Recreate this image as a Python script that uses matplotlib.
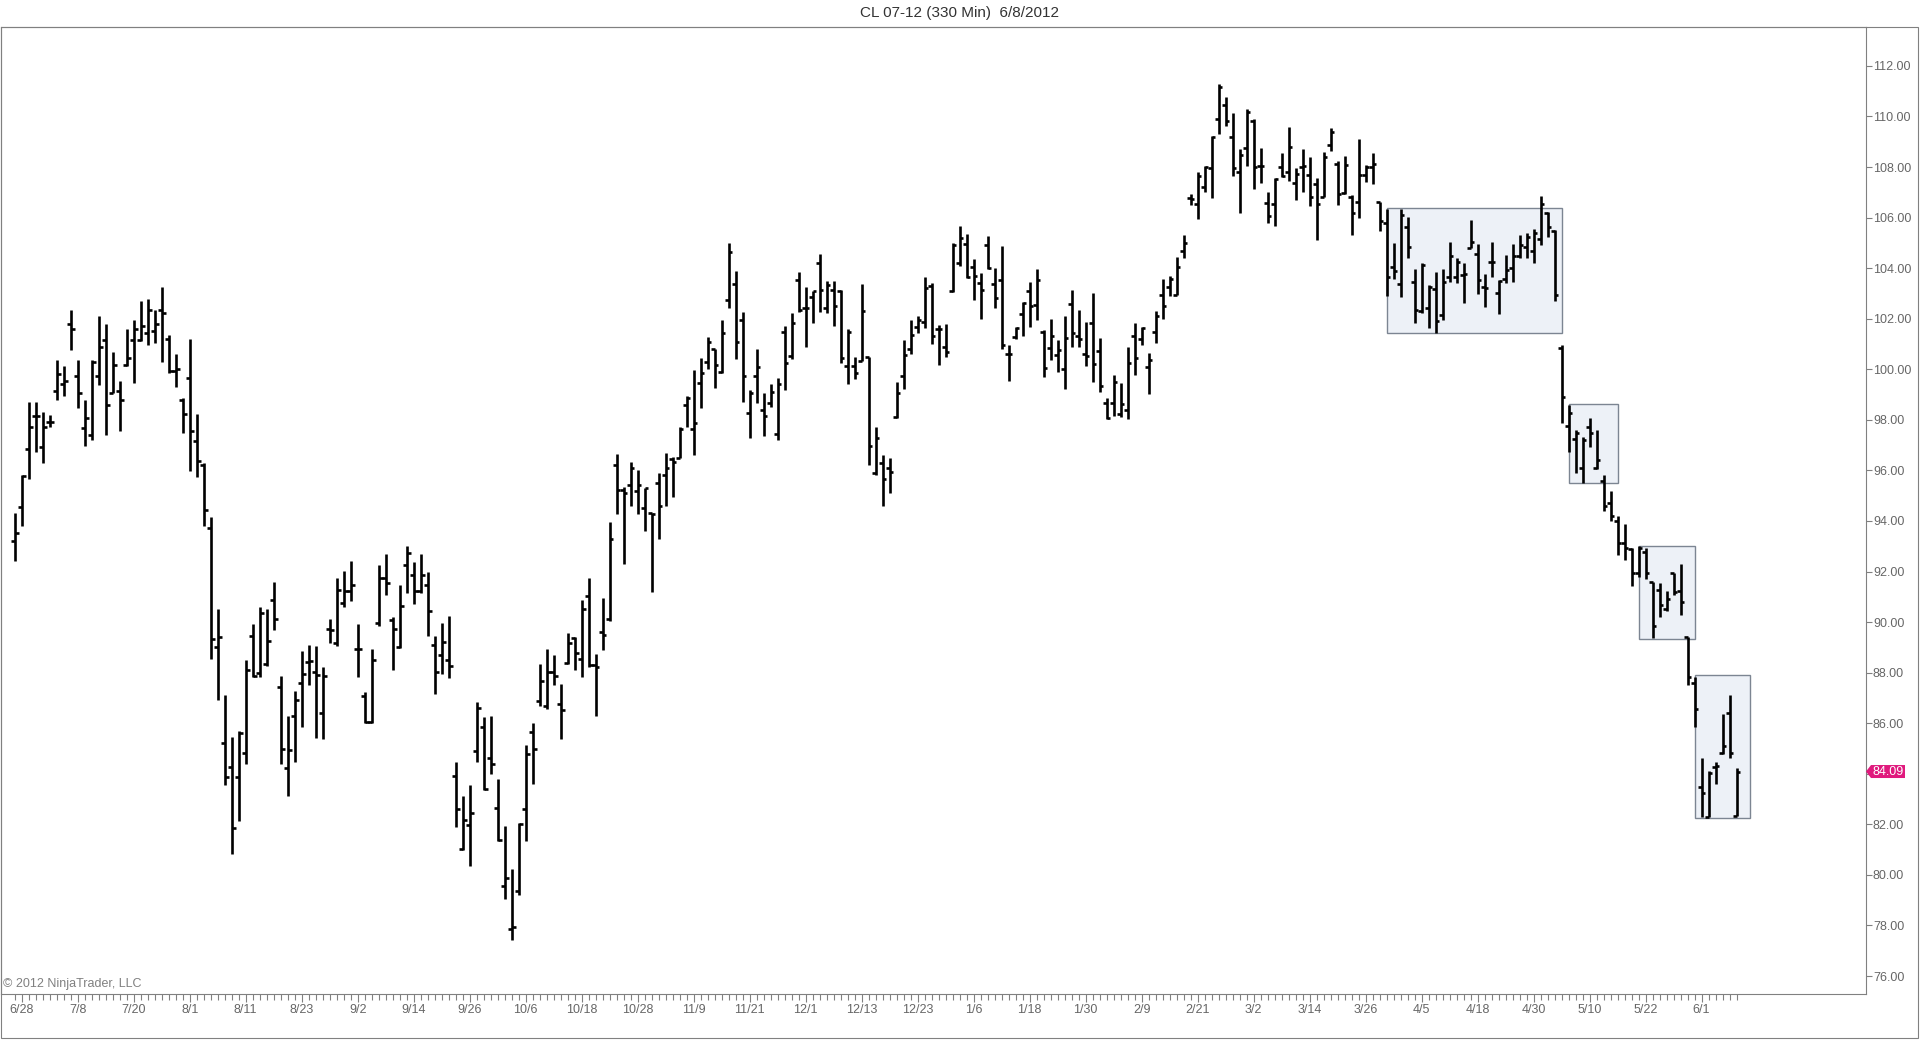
#!/usr/bin/env python3

# CL 07-12 330 min OHLC bars, NinjaTrader look

import numpy as np
import matplotlib
matplotlib.use('Agg')
import matplotlib.pyplot as plt
from matplotlib.patches import Rectangle, Polygon
from matplotlib.ticker import FixedLocator, FuncFormatter


opens = [93.21, 94.54, 96.86, 98.15, 96.94, 97.90, 99.16, 99.42, 101.81, 99.72,
         97.68, 97.42, 99.72, 101.17, 99.08, 99.16, 100.19, 101.16, 101.16, 101.43,
         101.51, 102.34, 101.20, 99.92, 98.78, 99.66, 97.15, 96.20, 93.71, 89.02,
         85.23, 84.28, 83.87, 84.82, 89.47, 88.00, 88.34, 90.88, 87.43, 84.22,
         86.29, 87.58, 88.41, 88.02, 86.39, 89.74, 89.17, 90.76, 91.22, 88.92,
         87.06, 86.04, 89.97, 91.76, 90.07, 89.03, 92.24, 91.85, 91.22, 91.47,
         89.11, 88.69, 88.50, 83.93, 81.02, 81.97, 84.89, 85.85, 84.62, 82.65,
         79.58, 77.85, 79.38, 82.59, 85.66, 86.87, 86.67, 88.02, 86.77, 88.40,
         89.36, 88.53, 91.03, 88.30, 89.61, 90.13, 96.21, 95.22, 95.42, 95.20,
         94.50, 94.30, 95.51, 95.82, 96.44, 96.48, 98.59, 97.62, 99.44, 100.30,
         100.79, 99.90, 102.74, 103.37, 101.95, 98.28, 99.73, 98.39, 98.65, 97.44,
         101.49, 100.52, 103.53, 102.41, 102.85, 104.22, 102.44, 103.14, 103.10, 100.14,
         100.14, 100.34, 100.50, 95.88, 96.31, 96.08, 98.12, 99.73, 100.79, 101.68,
         101.88, 103.29, 101.58, 100.87, 103.11, 104.22, 104.96, 104.06, 103.40, 104.92,
         103.38, 103.53, 100.61, 101.27, 102.19, 103.11, 102.55, 101.49, 100.83, 100.57,
         100.00, 102.59, 101.30, 100.61, 101.85, 100.74, 98.66, 98.66, 98.23, 98.39,
         101.32, 101.19, 100.08, 101.49, 102.94, 103.27, 102.94, 104.66, 106.76, 106.54,
         107.20, 107.95, 109.89, 110.46, 109.18, 107.82, 108.74, 109.84, 108.04, 106.59,
         106.54, 107.99, 107.82, 107.38, 108.02, 107.69, 107.33, 106.80, 108.87, 108.12,
         106.99, 106.83, 106.63, 107.69, 107.99, 106.63, 105.80, 104.04, 103.38, 105.64,
         103.47, 102.32, 102.41, 103.17, 102.15, 103.64, 103.67, 103.73, 104.79, 104.56,
         103.25, 104.26, 103.03, 103.56, 103.99, 104.48, 104.83, 104.69, 105.14, 106.17,
         105.49, 100.83, 97.76, 97.23, 96.08, 97.73, 96.08, 95.60, 94.70, 94.00,
         93.14, 92.88, 91.96, 92.79, 91.60, 91.27, 90.51, 91.93, 91.24, 89.40,
         87.58, 83.46, 82.30, 84.28, 84.81, 86.39, 82.33]

highs = [94.30, 95.83, 98.71, 98.71, 98.33, 98.18, 100.37, 100.15, 102.34, 100.37,
         98.78, 100.37, 102.11, 101.81, 100.68, 99.54, 101.58, 101.96, 102.72, 102.79,
         102.34, 103.25, 101.36, 100.60, 98.86, 101.20, 98.25, 96.30, 94.16, 90.53,
         87.12, 85.46, 85.69, 88.49, 89.93, 90.61, 90.53, 91.59, 87.88, 86.29,
         87.28, 88.87, 89.09, 89.07, 88.21, 90.13, 91.76, 92.04, 92.43, 89.93,
         87.25, 88.92, 92.24, 92.71, 90.22, 91.47, 93.00, 92.37, 92.68, 91.99,
         89.45, 89.97, 90.26, 84.47, 83.12, 83.55, 86.83, 86.23, 86.29, 83.80,
         81.94, 80.25, 82.07, 85.14, 86.00, 88.34, 88.92, 88.69, 87.57, 89.55,
         89.42, 90.89, 91.76, 88.73, 90.95, 93.96, 96.65, 95.36, 96.34, 96.01,
         95.32, 94.33, 95.88, 96.70, 96.54, 97.73, 98.94, 99.97, 100.43, 101.29,
         100.79, 101.95, 104.98, 103.89, 102.28, 99.18, 100.79, 99.07, 99.42, 99.64,
         101.71, 102.24, 103.86, 103.24, 103.11, 104.55, 103.50, 103.50, 103.14, 101.58,
         100.47, 103.37, 100.50, 97.73, 96.61, 96.48, 99.51, 101.16, 101.95, 102.11,
         103.66, 103.40, 101.76, 101.79, 105.01, 105.67, 105.35, 104.35, 103.80, 105.27,
         103.99, 104.88, 100.96, 101.69, 102.68, 103.47, 103.96, 101.56, 101.98, 101.16,
         102.11, 103.14, 102.35, 101.89, 103.01, 101.23, 98.85, 99.78, 99.45, 100.87,
         101.82, 101.69, 100.66, 102.32, 103.56, 103.69, 104.43, 105.31, 106.94, 107.82,
         108.04, 109.23, 111.29, 110.76, 110.15, 108.70, 110.29, 109.89, 108.74, 107.03,
         107.56, 108.57, 109.60, 107.95, 108.70, 108.41, 107.56, 108.61, 109.53, 108.22,
         108.44, 106.90, 109.10, 108.08, 108.57, 106.63, 106.33, 105.01, 106.33, 106.01,
         103.96, 104.22, 103.34, 103.83, 103.96, 105.05, 104.39, 104.19, 105.91, 104.96,
         103.77, 105.05, 103.53, 104.52, 104.96, 105.31, 105.38, 105.54, 106.86, 106.24,
         105.51, 100.96, 98.59, 97.60, 97.34, 98.06, 97.60, 95.80, 95.20, 94.20,
         93.90, 92.92, 93.01, 92.92, 91.60, 91.56, 91.24, 91.93, 92.30, 89.42,
         87.84, 84.61, 84.12, 84.48, 86.37, 87.12, 84.22]

lows = [92.42, 93.79, 95.68, 96.74, 96.28, 97.72, 98.78, 98.93, 100.75, 98.48,
        96.97, 97.19, 99.39, 97.42, 99.08, 97.57, 100.15, 99.46, 101.13, 100.98,
        101.05, 100.30, 99.84, 99.31, 97.50, 95.98, 95.75, 93.79, 88.56, 86.90,
        83.57, 80.84, 82.13, 84.40, 87.81, 87.81, 88.26, 89.70, 84.40, 83.11,
        84.48, 85.84, 87.50, 85.43, 85.37, 89.17, 89.07, 90.61, 90.84, 87.82,
        86.00, 86.00, 89.84, 91.08, 88.11, 88.97, 91.14, 90.70, 91.14, 89.45,
        87.15, 87.96, 87.77, 81.88, 80.98, 80.34, 84.47, 83.36, 83.99, 81.36,
        79.06, 77.41, 79.19, 81.36, 83.61, 86.67, 86.58, 87.50, 85.39, 88.34,
        88.11, 87.82, 88.21, 86.29, 88.88, 90.03, 94.29, 92.30, 94.59, 94.27,
        93.60, 91.20, 93.30, 94.59, 94.93, 96.48, 97.70, 96.61, 98.45, 100.00,
        99.25, 99.87, 102.41, 100.39, 98.72, 97.27, 98.68, 97.36, 98.49, 97.20,
        99.18, 100.39, 102.28, 100.89, 101.82, 102.28, 102.24, 101.71, 100.26, 99.42,
        99.60, 100.34, 96.21, 95.82, 94.59, 95.09, 98.06, 99.21, 100.60, 101.42,
        101.62, 101.00, 100.17, 100.47, 103.07, 104.09, 103.60, 102.74, 101.98, 103.96,
        102.41, 100.79, 99.55, 101.19, 101.32, 101.69, 101.95, 99.68, 100.37, 99.91,
        99.21, 100.90, 100.87, 100.13, 99.51, 99.12, 98.02, 98.15, 98.13, 98.02,
        99.78, 100.96, 99.02, 101.03, 101.98, 102.88, 102.94, 104.39, 106.50, 105.93,
        107.03, 106.76, 109.31, 109.63, 107.65, 106.17, 108.04, 107.12, 107.36, 105.80,
        105.67, 107.60, 107.46, 106.70, 107.03, 106.44, 105.12, 106.80, 108.65, 106.50,
        106.95, 105.31, 105.97, 107.42, 107.33, 105.49, 102.90, 103.56, 102.85, 104.39,
        101.85, 102.22, 101.62, 101.45, 101.95, 103.47, 103.40, 102.61, 104.79, 102.98,
        102.48, 103.67, 102.18, 103.43, 103.47, 104.39, 104.39, 104.22, 104.92, 105.25,
        102.72, 97.86, 96.74, 95.89, 95.52, 96.94, 96.04, 94.40, 94.00, 92.66,
        92.46, 91.43, 91.80, 91.69, 89.36, 90.22, 90.45, 91.07, 90.28, 87.51,
        85.86, 82.30, 82.30, 83.60, 84.78, 84.61, 82.33]

closes = [93.51, 95.78, 97.72, 98.15, 97.72, 97.90, 99.81, 99.54, 101.58, 99.08,
          98.06, 100.30, 100.90, 98.60, 100.18, 98.78, 100.45, 101.58, 101.73, 102.34,
          101.81, 102.23, 99.92, 100.02, 98.25, 97.54, 96.36, 94.42, 89.32, 89.43,
          83.87, 81.86, 85.61, 88.11, 87.88, 90.38, 89.25, 90.12, 84.97, 84.93,
          86.90, 87.96, 88.46, 87.92, 87.86, 89.68, 91.28, 91.22, 91.47, 88.92,
          86.04, 88.50, 91.76, 91.53, 89.74, 90.64, 92.75, 91.22, 91.85, 90.45,
          88.02, 89.22, 88.27, 82.59, 82.17, 82.45, 86.62, 83.41, 84.37, 81.40,
          79.86, 77.95, 82.01, 84.79, 85.00, 87.69, 88.02, 87.86, 86.54, 89.17,
          88.78, 90.51, 88.30, 88.21, 89.49, 93.29, 95.21, 95.09, 96.11, 95.42,
          95.29, 94.27, 94.59, 96.11, 96.34, 97.62, 98.85, 97.86, 99.84, 101.07,
          100.17, 101.45, 104.65, 101.09, 99.75, 99.05, 100.08, 98.15, 99.11, 99.42,
          100.23, 101.84, 102.34, 102.41, 103.10, 103.14, 103.33, 102.52, 100.43, 101.49,
          99.84, 102.32, 96.98, 97.29, 95.65, 95.95, 99.05, 100.56, 101.36, 101.95,
          103.20, 101.32, 101.58, 100.70, 104.92, 105.18, 103.67, 103.69, 103.14, 103.99,
          102.81, 100.96, 100.61, 101.62, 102.61, 102.51, 103.53, 100.04, 101.32, 100.76,
          101.23, 101.45, 101.19, 100.53, 100.21, 99.34, 98.06, 99.51, 98.63, 100.26,
          100.44, 101.62, 100.37, 102.11, 102.51, 103.56, 104.04, 104.99, 106.73, 107.65,
          107.99, 109.18, 111.16, 109.84, 107.95, 108.48, 110.19, 107.99, 108.04, 106.07,
          107.52, 107.65, 108.78, 107.73, 108.04, 106.83, 106.54, 108.39, 109.40, 106.94,
          108.08, 106.20, 107.69, 108.02, 108.12, 105.88, 103.64, 103.90, 106.10, 104.85,
          102.35, 104.13, 103.25, 101.93, 103.47, 104.48, 104.26, 103.77, 105.05, 103.53,
          103.20, 104.26, 103.51, 103.93, 104.48, 104.92, 105.25, 105.38, 106.54, 105.64,
          102.94, 98.89, 98.26, 97.47, 97.20, 97.47, 96.41, 94.60, 94.20, 93.14,
          92.92, 91.96, 92.92, 91.93, 89.85, 90.68, 90.90, 91.20, 90.81, 87.84,
          86.55, 83.23, 84.02, 84.31, 85.10, 84.84, 84.09]

# date labels, one every 8 bars starting at bar 1
date_labels = ['6/28', '7/8', '7/20', '8/1', '8/11', '8/23', '9/2', '9/14', '9/26',
               '10/6', '10/18', '10/28', '11/9', '11/21', '12/1', '12/13', '12/23',
               '1/6', '1/18', '1/30', '2/9', '2/21', '3/2', '3/14', '3/26', '4/5',
               '4/18', '4/30', '5/10', '5/22', '6/1']

# drawn rectangles: (first bar, last bar, top price, bottom price)
box_left   = [196.1, 222.0, 232.1, 240.1]
box_right  = [221.1, 229.0, 240.1, 247.9]
box_top    = [106.37, 98.62, 93.01, 87.91]
box_bottom = [101.42, 95.49, 89.33, 82.27]

last_price = 84.09


W, H = 1920, 1040
FRAME = '#808080'
TEXT  = '#666666'


def draw_bars(ax, o, h, l, c):
    x = np.arange(len(o))
    lw = 1.9
    ax.vlines(x, l, h, color='black', lw=lw, zorder=3)
    ax.hlines(o, x - 0.55, x, color='black', lw=lw, zorder=3)
    ax.hlines(c, x, x + 0.55, color='black', lw=lw, zorder=3)


def draw_boxes(ax):
    for x0, x1, y1, y0 in zip(box_left, box_right, box_top, box_bottom):
        ax.add_patch(Rectangle((x0, y0), x1 - x0, y1 - y0, facecolor='#edf1f7',
                               edgecolor='#7c8592', lw=1.0, zorder=1))


def draw_price_tag(ax, price):
    # left pointing tag on the price axis
    trans = ax.get_yaxis_transform()
    aw = 1865.0
    half = 6.5 / 25.28
    pts = [(1.0, price), (5 / aw + 1.0, price + half), (39 / aw + 1.0, price + half),
           (39 / aw + 1.0, price - half), (5 / aw + 1.0, price - half)]
    ax.add_patch(Polygon(pts, closed=True, transform=trans, facecolor='#e0197d',
                         edgecolor='none', clip_on=False, zorder=6))
    ax.text(22.5 / aw + 1.0, price, '%.2f' % price, transform=trans, color='white',
            fontsize=9, ha='center', va='center', clip_on=False, zorder=7)


plt.rcParams['font.family'] = ['Liberation Sans', 'DejaVu Sans']

fig = plt.figure(figsize=(W / 100, H / 100), dpi=100)
ax = fig.add_axes([1 / W, 46 / H, 1865 / W, 967 / H])

draw_boxes(ax)
draw_bars(ax, opens, highs, lows, closes)

ax.set_xlim(-1.96, 264.5)
ax.set_ylim(75.29, 113.54)

# price axis on the right
ax.yaxis.tick_right()
ax.yaxis.set_major_locator(FixedLocator(np.arange(76, 113, 2)))
ax.yaxis.set_major_formatter(FuncFormatter(lambda v, p: '' if abs(v - 84) < 0.01 else '%.2f' % v))
ax.tick_params(axis='y', length=4, width=0.8, color=FRAME, pad=1, labelsize=9, labelcolor=TEXT)

# date axis, a tick per bar, label every 8 bars
n = len(opens)
ax.xaxis.set_major_locator(FixedLocator(np.arange(1, n, 8)))
ax.xaxis.set_minor_locator(FixedLocator(np.arange(0, n)))
ax.set_xticklabels(date_labels)
ax.tick_params(axis='x', which='major', length=6, width=0.8, color=FRAME, pad=1.5,
               labelsize=9, labelcolor=TEXT)
ax.tick_params(axis='x', which='minor', length=4, width=0.8, color=FRAME)

for side in ['top', 'left', 'right', 'bottom']:
    ax.spines[side].set_color(FRAME)
    ax.spines[side].set_linewidth(0.8)

ax.text(2 / 1865, 0.004, '\u00a9 2012 NinjaTrader, LLC', transform=ax.transAxes,
        fontsize=9, color='#808080', ha='left', va='bottom')

draw_price_tag(ax, last_price)

# outer panel frame
fig.add_artist(Rectangle((1 / W, 2 / H), 1917 / W, 1011 / H, transform=fig.transFigure,
                         fill=False, edgecolor=FRAME, lw=0.8))

fig.text(0.5, 1 - 13 / H, 'CL 07-12 (330 Min)  6/8/2012', ha='center', va='center',
         fontsize=11, color='#333333')

fig.savefig('out.png', dpi=100)
